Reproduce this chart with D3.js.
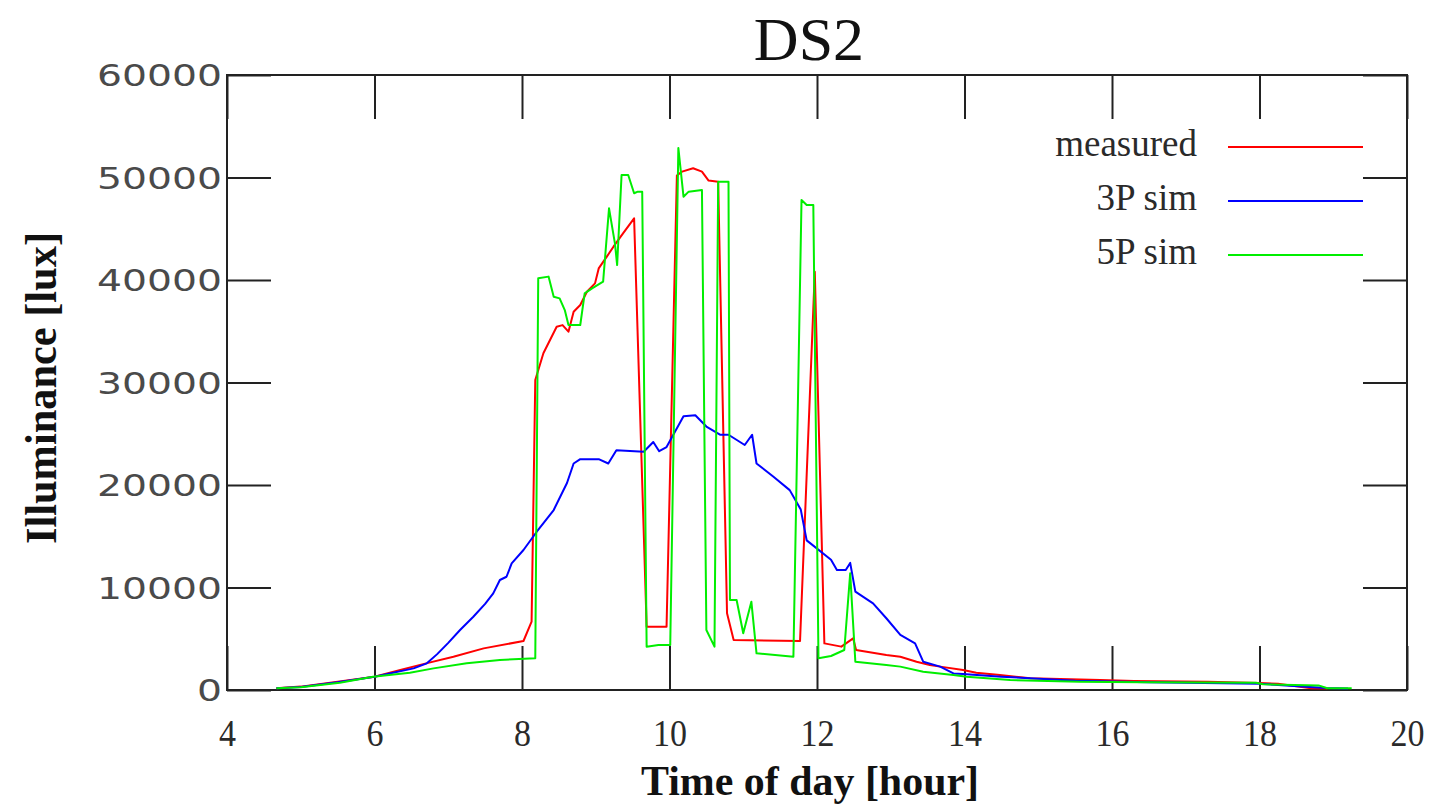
<!DOCTYPE html>
<html>
<head>
<meta charset="utf-8">
<script src="https://cdn.jsdelivr.net/npm/d3@7/dist/d3.min.js"></script>
<style>
  html, body { margin: 0; padding: 0; background: #fff; }
  svg { display: block; }
</style>
</head>
<body>
<svg id="chart" width="1449" height="805"></svg>
<script>
// Daylight illuminance at DS2: time of day (hour) vs. lux
const measuredHours = [4.67, 5.0, 5.5, 6.0, 6.35, 6.7, 7.07, 7.48, 8.02, 8.13, 8.18, 8.29, 8.47, 8.55, 8.63, 8.7, 8.79, 8.88, 8.99, 9.04, 9.15, 9.24, 9.37, 9.52, 9.69, 9.96, 10.1, 10.17, 10.32, 10.44, 10.53, 10.66, 10.78, 10.87, 11.77, 11.97, 12.1, 12.33, 12.49, 12.53, 12.94, 13.13, 13.35, 13.53, 13.67, 13.98, 14.16, 14.48, 14.89, 15.84, 16.3, 17.3, 18.0, 18.25, 18.7, 18.92];
const measuredLux = [170, 330, 800, 1300, 1950, 2600, 3250, 4060, 4780, 6660, 30240, 32850, 35440, 35600, 34960, 36900, 37560, 38860, 39670, 41130, 42280, 43250, 44550, 46020, 6180, 6180, 50200, 50570, 50900, 50570, 49700, 49590, 7480, 4880, 4780, 40800, 4550, 4230, 5040, 3900, 3410, 3250, 2760, 2440, 2280, 1950, 1690, 1460, 1140, 975, 880, 800, 680, 620, 170, 150];

const sim3pHours = [4.67, 5.0, 5.5, 6.0, 6.53, 6.71, 6.85, 7.0, 7.16, 7.34, 7.5, 7.61, 7.7, 7.79, 7.86, 8.02, 8.2, 8.43, 8.61, 8.7, 8.79, 9.04, 9.17, 9.28, 9.65, 9.78, 9.86, 9.96, 10.19, 10.35, 10.5, 10.69, 10.8, 11.02, 11.12, 11.18, 11.41, 11.63, 11.78, 11.86, 12.19, 12.27, 12.39, 12.45, 12.52, 12.76, 12.94, 13.13, 13.33, 13.44, 13.67, 13.85, 13.98, 14.5, 15.5, 16.5, 18.0, 18.9, 19.2];
const sim3pLux = [170, 300, 750, 1300, 2110, 2600, 3500, 4600, 5850, 7150, 8400, 9430, 10730, 11050, 12360, 13660, 15440, 17560, 20190, 22100, 22520, 22520, 22100, 23400, 23250, 24200, 23300, 23700, 26700, 26800, 25700, 24900, 24900, 23900, 24900, 22100, 20800, 19500, 17600, 14600, 12700, 11700, 11700, 12400, 9600, 8450, 7000, 5370, 4550, 2760, 2280, 1620, 1560, 1300, 900, 750, 600, 200, 150];

const sim5pHours = [4.67, 5.0, 5.53, 5.98, 6.48, 6.8, 7.25, 7.7, 8.18, 8.22, 8.36, 8.43, 8.51, 8.58, 8.63, 8.79, 8.85, 8.95, 9.1, 9.18, 9.26, 9.29, 9.35, 9.44, 9.52, 9.57, 9.63, 9.69, 9.85, 10.01, 10.12, 10.19, 10.26, 10.44, 10.5, 10.61, 10.66, 10.8, 10.82, 10.91, 11.0, 11.11, 11.18, 11.68, 11.79, 11.86, 11.95, 12.02, 12.19, 12.37, 12.45, 12.52, 12.94, 13.13, 13.44, 13.85, 14.03, 14.62, 15.56, 16.4, 17.95, 18.05, 18.8, 18.92, 19.25];
const sim5pLux = [170, 260, 700, 1300, 1690, 2110, 2600, 2930, 3090, 40170, 40330, 38370, 38210, 37070, 35610, 35610, 38700, 39190, 39840, 46990, 43580, 41460, 50240, 50240, 48460, 48620, 48620, 4230, 4390, 4390, 52880, 48130, 48620, 48780, 5850, 4230, 49590, 49590, 8780, 8780, 5530, 8620, 3580, 3250, 47800, 47310, 47310, 3090, 3320, 3900, 11380, 2760, 2440, 2280, 1790, 1460, 1300, 975, 810, 760, 715, 560, 450, 165, 165];

const xTicks = [4, 6, 8, 10, 12, 14, 16, 18, 20];
const yTicks = [0, 10000, 20000, 30000, 40000, 50000, 60000];

const seriesNames = ["measured", "3P sim", "5P sim"];
const seriesColors = ["#ff0000", "#0000ff", "#00ee00"];

const svg = d3.select("#chart");
const plot = { left: 227, right: 1407, top: 75, bottom: 690 };

const x = d3.scaleLinear().domain([4, 20]).range([plot.left, plot.right]);
const y = d3.scaleLinear().domain([0, 60000]).range([plot.bottom, plot.top]);

const tickLen = 44;
const ink = "#222";

// Mirrored inward ticks on all four sides
const bottomAxis = svg.append("g")
  .attr("transform", `translate(0,${plot.bottom})`)
  .call(d3.axisBottom(x).tickValues(xTicks).tickSizeInner(-tickLen).tickSizeOuter(0).tickPadding(0).tickFormat(d3.format("d")));
const topAxis = svg.append("g")
  .attr("transform", `translate(0,${plot.top})`)
  .call(d3.axisTop(x).tickValues(xTicks).tickSizeInner(-tickLen).tickSizeOuter(0).tickFormat(""));
const leftAxis = svg.append("g")
  .attr("transform", `translate(${plot.left},0)`)
  .call(d3.axisLeft(y).tickValues(yTicks).tickSizeInner(-tickLen).tickSizeOuter(0).tickPadding(5).tickFormat(d3.format("d")));
const rightAxis = svg.append("g")
  .attr("transform", `translate(${plot.right},0)`)
  .call(d3.axisRight(y).tickValues(yTicks).tickSizeInner(-tickLen).tickSizeOuter(0).tickFormat(""));

[bottomAxis, topAxis, leftAxis, rightAxis].forEach(g => {
  g.select(".domain").remove();
  g.selectAll(".tick line").attr("stroke", ink).attr("stroke-width", 2);
});

bottomAxis.selectAll(".tick text")
  .attr("y", 56)
  .attr("dy", null)
  .attr("font-family", "'Liberation Serif', 'Times New Roman', serif")
  .attr("font-size", 38)
  .attr("fill", "#2a2a2a")
  .attr("textLength", d => String(d).length * 17)
  .attr("lengthAdjust", "spacingAndGlyphs");

leftAxis.selectAll(".tick text")
  .attr("x", -5)
  .attr("dy", "0.36em")
  .attr("font-family", "'DejaVu Sans', sans-serif")
  .attr("font-size", 30)
  .attr("fill", "#4a4a4a")
  .attr("textLength", d => String(d).length * 25)
  .attr("lengthAdjust", "spacingAndGlyphs");

// Plot frame
svg.append("rect")
  .attr("x", plot.left).attr("y", plot.top)
  .attr("width", plot.right - plot.left).attr("height", plot.bottom - plot.top)
  .attr("fill", "none").attr("stroke", ink).attr("stroke-width", 2);

// Series lines
const line = d3.line().x(d => x(d[0])).y(d => y(d[1]));
const series = [
  d3.zip(measuredHours, measuredLux),
  d3.zip(sim3pHours, sim3pLux),
  d3.zip(sim5pHours, sim5pLux)
];
svg.append("g").selectAll("path")
  .data(series)
  .join("path")
  .attr("d", line)
  .attr("fill", "none")
  .attr("stroke", (d, i) => seriesColors[i])
  .attr("stroke-width", 2)
  .attr("stroke-linejoin", "round");

// Legend
const legend = svg.append("g");
seriesNames.forEach((name, i) => {
  const ly = 147 + i * 54;
  legend.append("text")
    .attr("x", 1197).attr("y", ly + 9)
    .attr("text-anchor", "end")
    .attr("font-family", "'Liberation Serif', 'Times New Roman', serif")
    .attr("font-size", 37)
    .attr("fill", "#2a2a2a")
    .text(name);
  legend.append("line")
    .attr("x1", 1228).attr("x2", 1363)
    .attr("y1", ly).attr("y2", ly)
    .attr("stroke", seriesColors[i])
    .attr("stroke-width", 2);
});

// Title and axis titles
svg.append("text")
  .attr("x", 809).attr("y", 60)
  .attr("text-anchor", "middle")
  .attr("font-family", "'Liberation Serif', 'Times New Roman', serif")
  .attr("font-size", 62)
  .attr("fill", "#111")
  .text("DS2");

svg.append("text")
  .attr("x", 810).attr("y", 795)
  .attr("text-anchor", "middle")
  .attr("font-family", "'Liberation Serif', 'Times New Roman', serif")
  .attr("font-weight", "bold")
  .attr("font-size", 42)
  .attr("fill", "#111")
  .attr("textLength", 338)
  .attr("lengthAdjust", "spacingAndGlyphs")
  .text("Time of day [hour]");

svg.append("text")
  .attr("transform", "translate(56,388) rotate(-90)")
  .attr("text-anchor", "middle")
  .attr("font-family", "'Liberation Serif', 'Times New Roman', serif")
  .attr("font-weight", "bold")
  .attr("font-size", 44)
  .attr("fill", "#111")
  .attr("textLength", 312)
  .attr("lengthAdjust", "spacingAndGlyphs")
  .text("Illuminance [lux]");
</script>
</body>
</html>
